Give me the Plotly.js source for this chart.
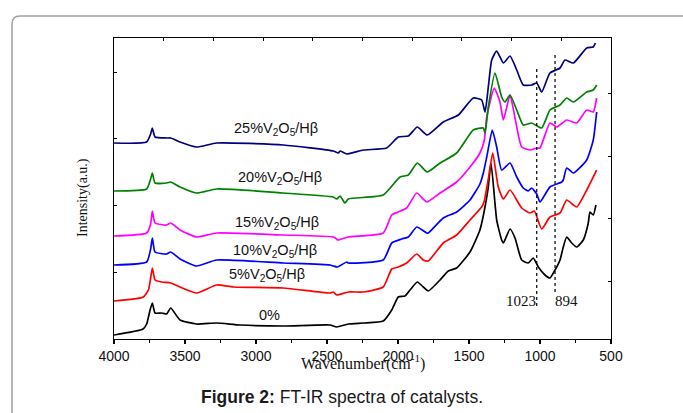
<!DOCTYPE html>
<html><head><meta charset="utf-8">
<script src="https://cdn.plot.ly/plotly-3.0.1.min.js"></script>
<style>html,body{margin:0;padding:0;background:#fff;} #chart{width:683px;height:413px;}</style>
</head><body><div id="chart"></div>
<script>
// ---- data (wavenumber cm-1, relative intensity with stacking offset) ----
const wn0  = [4000,3796,3770,3746,3730,3711,3664,3629,3601,3535,3418,3277,3113,2808,2479,2432,2350,2244,2104,2044,1998,1951,1915,1864,1822,1787,1704,1646,1587,1493,1423,1394,1366,1345,1305,1270,1258,1211,1176,1129,1083,1048,1012,965,930,894,859,836,812,777,742,695,660,648,625,606];
const int0 = [4,10,15,29,36,26,26,25,31,19,15,16,14,13,14,12,15,16,18,29,42,43,49,57,52,48,59,68,71,87,109,127,150,176,119,99,96,110,101,79,76,81,72,64,61,69,79,92,102,96,92,99,116,127,124,134];

const wn5  = [4000,3794,3758,3742,3730,3711,3664,3601,3535,3418,3277,3160,2808,2479,2456,2432,2350,2244,2104,2044,1998,1939,1868,1822,1787,1681,1587,1493,1411,1394,1364,1333,1294,1258,1211,1129,1070,1040,988,930,859,812,742,671,625,601];
const int5 = [38,42,49,61,71,59,57,56,52,46,54,52,51,46,47,44,47,47,52,70,72,76,85,79,78,96,104,119,132,137,160,186,152,140,149,131,126,128,110,122,126,139,132,149,162,169];

const wn10  = [4000,3770,3742,3730,3711,3629,3601,3535,3418,3277,2808,2479,2456,2427,2361,2350,2104,2044,1974,1927,1868,1798,1787,1681,1587,1493,1423,1399,1375,1336,1305,1270,1211,1164,1118,1083,1059,1023,1000,930,847,836,812,765,671,625,601];
const int10 = [74,77,90,101,87,85,87,80,73,79,76,74,73,72,77,76,79,96,100,102,112,106,106,121,127,139,155,166,182,209,192,169,176,162,151,148,151,145,137,152,157,159,171,166,179,199,227];

const wn15  = [4000,3770,3742,3730,3711,3629,3601,3535,3418,3277,2808,2456,2432,2427,2350,2104,2044,1998,1939,1868,1798,1704,1587,1493,1423,1392,1375,1322,1282,1258,1211,1176,1129,1070,1023,1000,930,882,812,742,671,625,601];
const int15 = [103,106,115,128,116,114,116,109,102,106,104,102,100,99,102,106,124,127,131,146,137,146,157,172,186,199,222,251,237,219,244,221,192,189,191,191,216,212,219,216,229,227,241];

const wn20  = [4000,3770,3742,3730,3711,3629,3601,3535,3418,3277,2808,2456,2432,2408,2373,2350,2104,1986,1927,1864,1794,1704,1587,1470,1399,1387,1364,1317,1270,1247,1211,1164,1118,1059,988,930,859,812,765,671,625,601];
const int20 = [148,150,160,166,156,156,157,152,146,150,146,142,140,143,136,140,144,162,164,176,167,176,186,209,211,206,232,266,242,237,244,229,214,216,211,229,234,241,237,247,249,254];

const wn25  = [4000,3770,3742,3730,3711,3629,3601,3535,3418,3277,2808,2456,2420,2408,2361,2244,2080,1998,1927,1864,1794,1681,1575,1470,1411,1387,1364,1340,1305,1258,1211,1164,1118,1059,1023,988,930,859,824,765,671,625,610];
const int25 = [196,197,205,211,202,201,201,197,192,196,194,188,186,188,185,189,191,202,203,212,204,217,224,241,239,227,252,279,288,276,283,269,254,254,256,247,266,271,279,276,291,292,296];

const seriesNames  = ["0%","5%V<sub>2</sub>O<sub>5</sub>/Hβ","10%V<sub>2</sub>O<sub>5</sub>/Hβ","15%V<sub>2</sub>O<sub>5</sub>/Hβ","20%V<sub>2</sub>O<sub>5</sub>/Hβ","25%V<sub>2</sub>O<sub>5</sub>/Hβ"];
const labelWn  = [2907,2921,2866,2854,2833,2859];
const labelInt = [24,64,88,116,161,210];

const bandWn   = [1023, 894];
const bandTop  = [272, 285];
const bandBot  = [33, 47];
const bandLabels = ["1023","894"];
const bandLabelWn = [1132, 815];
const bandLabelInt = [38, 38];

const xTickVals = [4000,3500,3000,2500,2000,1500,1000,500];
const xTickText = ["4000","3500","3000","2500","2000","1500","1000","500"];

// ---- build ----
const allWn  = [wn0, wn5, wn10, wn15, wn20, wn25];
const allInt = [int0, int5, int10, int15, int20, int25];
const colors = ["#000000","#ff0000","#0000ff","#ff00ff","#008000","#000080"];

const traces = allWn.map((w,i)=>({
  x: w, y: allInt[i], type:'scatter', mode:'lines', name: seriesNames[i],
  line:{color:colors[i], width:1.7, shape:'spline', smoothing:0.5}, showlegend:false, hoverinfo:'skip'
}));
bandWn.forEach((b,i)=>{
  traces.push({x:[b,b], y:[bandBot[i], bandTop[i]], type:'scatter', mode:'lines',
    line:{color:'#000', width:1.2, dash:'dot'}, showlegend:false, hoverinfo:'skip'});
});
traces.push({x:[], y:[], xaxis:'x2', yaxis:'y2', type:'scatter', showlegend:false});

// layout geometry in pixels
const L=114, R=611, T=38, B=339, W=683, H=413;
const pw=R-L, ph=B-T;
const px=(x)=>(x-L)/pw, py=(y)=>(B-y)/ph;

const serif = '"Liberation Serif","Times New Roman",serif';
const sans = 'Arial,"Liberation Sans",sans-serif';

const annotations = seriesNames.map((t,i)=>({
  x: labelWn[i], y: labelInt[i], xref:'x', yref:'y', text:t, showarrow:false,
  font:{family:sans, size:14.5, color:'#111'}, xanchor:'center', yanchor:'middle'
}));
bandLabels.forEach((t,i)=>annotations.push({
  x: bandLabelWn[i], y: bandLabelInt[i], xref:'x', yref:'y', text:t, showarrow:false,
  font:{family:serif, size:15, color:'#111'}, xanchor:'center', yanchor:'middle'
}));
annotations.push({x:px(363), y:py(362), xref:'paper', yref:'paper', showarrow:false,
  text:'Wavenumber(cm<sup>-1</sup>)', font:{family:serif, size:16, color:'#111'}, xanchor:'center', yanchor:'middle'});
annotations.push({x:px(83), y:py(198), xref:'paper', yref:'paper', showarrow:false, textangle:-90,
  text:'Intensity(a.u.)', font:{family:serif, size:14, color:'#111'}, xanchor:'center', yanchor:'middle'});
annotations.push({x:px(342), y:py(397), xref:'paper', yref:'paper', showarrow:false,
  text:'<b>Figure 2:</b> FT-IR spectra of catalysts.', font:{family:sans, size:17.5, color:'#1a1a1a'}, xanchor:'center', yanchor:'middle'});

const fx=px(12), fy=py(16), rx=8/pw, ry=8/ph;
const framePath = `M ${fx},${py(440)} L ${fx},${fy-ry} Q ${fx},${fy} ${fx+rx},${fy} L ${px(700)},${fy}`;

const layout = {
  width:W, height:H, margin:{l:L, r:W-R, t:T, b:H-B, pad:0},
  paper_bgcolor:'#fff', plot_bgcolor:'#fff', showlegend:false,
  font:{family:sans, size:14, color:'#111'},
  xaxis:{range:[4000,500], tickvals:xTickVals, ticktext:xTickText, ticks:'outside', ticklen:4, tickwidth:1.2, tickcolor:'#000',
    minor:{tickvals:[3750,3250,2750,2250,1750,1250,750], ticks:'outside', ticklen:3, tickwidth:1.2, tickcolor:'#000', showgrid:false},
    showline:true, linecolor:'#000', linewidth:1.4, showgrid:false, zeroline:false,
    tickfont:{family:sans, size:14, color:'#111'}},
  yaxis:{range:[0,ph], tickvals:[67,134,201,267], ticks:'inside', ticklen:3, tickcolor:'#000', showticklabels:false,
    showline:true, linecolor:'#000', linewidth:1.4, showgrid:false, zeroline:false},
  xaxis2:{overlaying:'x', side:'top', range:[0,10], tickvals:[1,2,3,4,5,6,7,8,9], ticks:'inside', ticklen:3, tickcolor:'#000',
    showticklabels:false, showline:true, linecolor:'#000', linewidth:1.4, showgrid:false, zeroline:false},
  yaxis2:{overlaying:'y', side:'right', range:[0,ph], tickvals:[58,121,183,246], ticks:'inside', ticklen:3, tickcolor:'#000',
    showticklabels:false, showline:true, linecolor:'#000', linewidth:1.4, showgrid:false, zeroline:false},
  annotations: annotations,
  shapes:[{type:'path', xref:'paper', yref:'paper', path:framePath, line:{color:'#a0a0a0', width:1.5}, layer:'below'}]
};

Plotly.newPlot('chart', traces, layout, {staticPlot:true, displayModeBar:false});
</script>
</body></html>
